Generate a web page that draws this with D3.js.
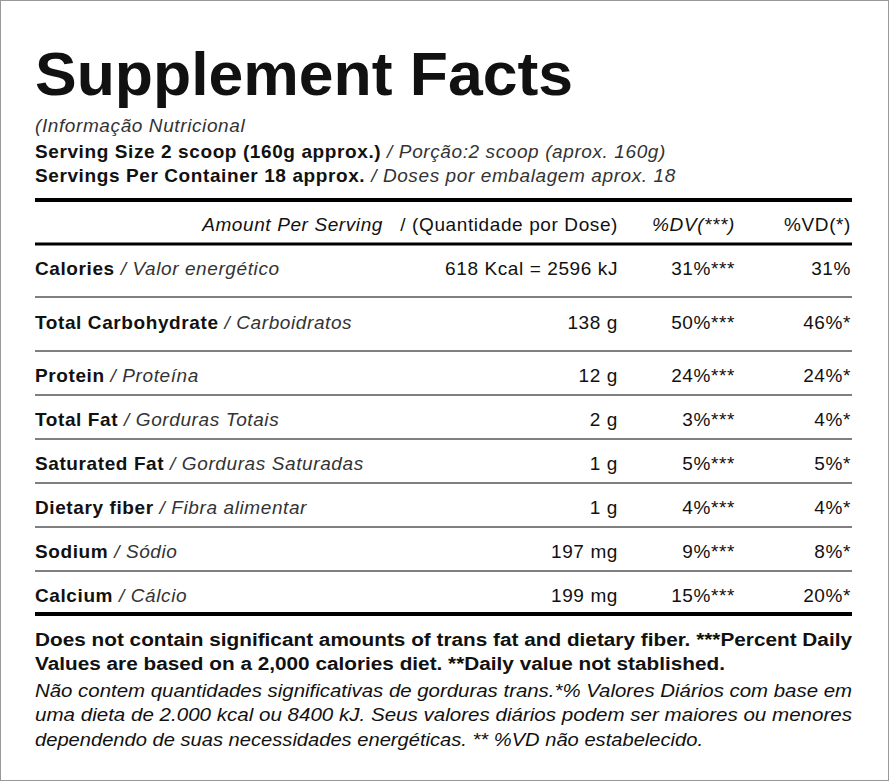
<!DOCTYPE html>
<html><head><meta charset="utf-8">
<script src="https://cdn.jsdelivr.net/npm/d3@7"></script>
<style>body{margin:0;background:#fff}text{font-family:"Liberation Sans",Arial,sans-serif;fill:#111}
.b{letter-spacing:0.6px}</style>
</head><body><svg></svg>
<script>
var nutrients = ["Calories","Total Carbohydrate","Protein","Total Fat","Saturated Fat","Dietary fiber","Sodium","Calcium"];
var nutrientsPt = ["Valor energético","Carboidratos","Proteína","Gorduras Totais","Gorduras Saturadas","Fibra alimentar","Sódio","Cálcio"];
var amounts = ["618 Kcal = 2596 kJ","138 g","12 g","2 g","1 g","1 g","197 mg","199 mg"];
var dv = ["31%***","50%***","24%***","3%***","5%***","4%***","9%***","15%***"];
var vd = ["31%","46%*","24%*","4%*","5%*","4%*","8%*","20%*"];

var width = 889, height = 781, left = 35, right = 852, fs = 19;
var svg = d3.select("svg").attr("width",width).attr("height",height);

svg.append("rect").attr("x",0.5).attr("y",0.5).attr("width",width-1).attr("height",height-1)
   .attr("fill","none").attr("stroke","#999");

svg.append("text").attr("x",left).attr("y",95).attr("font-size",62).attr("font-weight","bold")
   .attr("textLength",538).attr("lengthAdjust","spacingAndGlyphs").text("Supplement Facts");

var head = [
  [["(Informação Nutricional","italic"]],
  [["Serving Size 2 scoop (160g approx.)","bold"],[" / Porção:2 scoop (aprox. 160g)","italic"]],
  [["Servings Per Container 18 approx.","bold"],[" / Doses por embalagem aprox. 18","italic"]]
];
var headY = [132,158,182];
head.forEach(function(parts,i){
  var t = svg.append("text").attr("class","b").attr("x",left).attr("y",headY[i]).attr("font-size",fs);
  parts.forEach(function(p){
    t.append("tspan").text(p[0]).attr("font-weight",p[1]=="bold"?"bold":null)
     .attr("font-style",p[1]=="italic"?"italic":null).attr("fill",p[1]=="italic"?"#333":null);
  });
});

// row baselines
var y = d3.scaleOrdinal().domain(nutrients).range([275,329,382,426,470,514,558,602]);
var sepY = [297,351,395,439,483,527,571];

function rule(yy,w){
  svg.append("line").attr("x1",left).attr("x2",right).attr("y1",yy).attr("y2",yy)
     .attr("stroke","#000").attr("stroke-width",w);
}
rule(200,4); rule(244,3); rule(614,4);
sepY.forEach(function(s){ rule(s,1); });

function rt(x,yy,txt,italic){
  return svg.append("text").attr("class","b").attr("x",x).attr("y",yy).attr("font-size",fs)
    .attr("text-anchor","end").attr("font-style",italic?"italic":null)
    .attr("fill",italic?"#333":"#111").text(txt);
}
rt(383,231,"Amount Per Serving",true);
rt(618,231,"/ (Quantidade por Dose)");
rt(735,231,"%DV(***)",true);
rt(851,231,"%VD(*)");

var rows = svg.selectAll("g.row").data(nutrients).enter().append("g").attr("class","row");
rows.append("text").attr("class","b").attr("x",left).attr("y",function(d){return y(d);}).attr("font-size",fs)
  .each(function(d,i){
    var t = d3.select(this);
    t.append("tspan").attr("font-weight","bold").text(d);
    t.append("tspan").attr("font-style","italic").attr("fill","#333").text(" / "+nutrientsPt[i]);
  });
[[618,amounts],[735,dv],[851,vd]].forEach(function(c){
  rows.append("text").attr("class","b").attr("x",c[0]).attr("y",function(d){return y(d);}).attr("font-size",fs)
    .attr("text-anchor","end").text(function(d,i){return c[1][i];});
});

var foot = [
  ["Does not contain significant amounts of trans fat and dietary fiber. ***Percent Daily","bold",646],
  ["Values are based on a 2,000 calories diet. **Daily value not stablished.","bold",670],
  ["Não contem quantidades significativas de gorduras trans.*% Valores Diários com base em","italic",697],
  ["uma dieta de 2.000 kcal ou 8400 kJ. Seus valores diários podem ser maiores ou menores","italic",721],
  ["dependendo de suas necessidades energéticas. ** %VD não estabelecido.","italic",746]
];
var footLen = [817,690,817,817,668];
svg.selectAll("text.foot").data(foot).enter().append("text").attr("class","foot")
  .attr("x",left).attr("y",function(d){return d[2];}).attr("font-size",18)
  .attr("font-weight",function(d){return d[1]=="bold"?"bold":null;})
  .attr("font-style",function(d){return d[1]=="italic"?"italic":null;})
  .attr("fill",function(d){return d[1]=="italic"?"#333":"#111";})
  .attr("textLength",function(d,i){return footLen[i];}).attr("lengthAdjust","spacingAndGlyphs")
  .text(function(d){return d[0];});
</script></body></html>
